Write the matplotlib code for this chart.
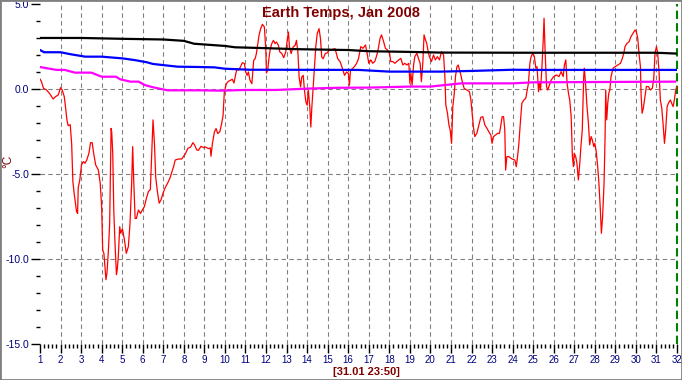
import matplotlib
matplotlib.use("Agg")
import matplotlib.pyplot as plt
from matplotlib.ticker import MultipleLocator, FixedLocator, FormatStrFormatter
from matplotlib.patches import Rectangle

plt.rcParams['font.family'] = ['Liberation Sans', 'DejaVu Sans']

# --- donnees ---
red_days = [1.0, 1.07, 1.17, 1.32, 1.48, 1.64, 1.76, 1.89, 2.0, 2.08, 2.18, 2.24, 2.31, 2.37,
            2.47, 2.54, 2.60, 2.67, 2.78, 2.83, 2.86, 2.94, 3.02, 3.11, 3.19, 3.28, 3.38, 3.46,
            3.54, 3.61, 3.71, 3.84, 3.93, 4.0, 4.05, 4.11, 4.16, 4.21, 4.26, 4.33, 4.39, 4.46,
            4.49, 4.54, 4.59, 4.65, 4.72, 4.76, 4.81, 4.88, 4.93, 5.01, 5.11, 5.20, 5.30, 5.38,
            5.46, 5.51, 5.56, 5.63, 5.69, 5.79, 5.89, 5.98, 6.08, 6.18, 6.28, 6.37, 6.44, 6.50,
            6.57, 6.63, 6.70, 6.80, 6.89, 6.99, 7.09, 7.22, 7.33, 7.41, 7.50, 7.58, 7.74, 7.90,
            8.07, 8.20, 8.33, 8.44, 8.52, 8.63, 8.71, 8.84, 8.95, 9.06, 9.19, 9.29, 9.32, 9.39,
            9.49, 9.57, 9.65, 9.75, 9.84, 9.91, 9.97, 10.07, 10.17, 10.27, 10.36, 10.44, 10.53,
            10.59, 10.66, 10.75, 10.85, 10.95, 11.01, 11.08, 11.14, 11.22, 11.31, 11.35, 11.40,
            11.47, 11.53, 11.60, 11.66, 11.74, 11.82, 11.92, 11.99, 12.02, 12.08, 12.15, 12.21,
            12.28, 12.36, 12.44, 12.51, 12.60, 12.67, 12.77, 12.86, 12.96, 13.03, 13.09, 13.14,
            13.22, 13.32, 13.42, 13.48, 13.55, 13.61, 13.68, 13.74, 13.81, 13.87, 13.94, 14.0,
            14.06, 14.13, 14.18, 14.23, 14.29, 14.36, 14.42, 14.49, 14.58, 14.65, 14.71, 14.78,
            14.88, 14.97, 15.07, 15.20, 15.36, 15.49, 15.61, 15.72, 15.82, 15.92, 16.01, 16.06,
            16.11, 16.21, 16.31, 16.40, 16.50, 16.61, 16.72, 16.84, 16.92, 17.0, 17.10, 17.19,
            17.29, 17.37, 17.45, 17.55, 17.62, 17.71, 17.81, 17.91, 18.01, 18.07, 18.17, 18.27,
            18.36, 18.46, 18.56, 18.66, 18.75, 18.85, 18.95, 19.0, 19.05, 19.11, 19.18, 19.24,
            19.34, 19.44, 19.50, 19.56, 19.63, 19.69, 19.76, 19.82, 19.89, 19.95, 20.05, 20.15,
            20.24, 20.34, 20.44, 20.54, 20.64, 20.70, 20.75, 20.83, 20.90, 20.96, 21.03, 21.09,
            21.16, 21.22, 21.29, 21.35, 21.42, 21.48, 21.55, 21.64, 21.77, 21.90, 21.97, 22.03,
            22.10, 22.16, 22.26, 22.36, 22.45, 22.55, 22.65, 22.75, 22.84, 22.94, 23.0, 23.07,
            23.17, 23.27, 23.36, 23.43, 23.49, 23.56, 23.62, 23.66, 23.72, 23.82, 23.92, 24.01,
            24.11, 24.18, 24.24, 24.30, 24.38, 24.45, 24.55, 24.64, 24.71, 24.77, 24.84, 24.90,
            24.98, 25.06, 25.13, 25.19, 25.26, 25.31, 25.36, 25.42, 25.49, 25.53, 25.58, 25.65,
            25.71, 25.79, 25.88, 26.0, 26.13, 26.26, 26.36, 26.46, 26.52, 26.59, 26.65, 26.72,
            26.78, 26.85, 26.91, 26.96, 27.0, 27.07, 27.13, 27.20, 27.27, 27.33, 27.39, 27.46,
            27.49, 27.56, 27.62, 27.69, 27.75, 27.82, 27.88, 27.95, 28.0, 28.07, 28.14, 28.20,
            28.27, 28.32, 28.38, 28.45, 28.50, 28.53, 28.58, 28.63, 28.68, 28.73, 28.79, 28.89,
            28.99, 29.12, 29.25, 29.34, 29.41, 29.47, 29.57, 29.67, 29.76, 29.86, 29.96, 30.02,
            30.09, 30.15, 30.22, 30.25, 30.30, 30.36, 30.45, 30.51, 30.61, 30.70, 30.80, 30.87,
            30.93, 31.0, 31.06, 31.13, 31.19, 31.26, 31.32, 31.39, 31.45, 31.52, 31.58, 31.68,
            31.74, 31.81, 31.87, 31.94, 31.99]
red_vals = [0.61, 0.45, 0.06, -0.04, -0.27, -0.57, -0.43, -0.33, 0.10, -0.04, -0.43, -1.02, -1.8,
            -2.14, -2.08, -3.18, -5.43, -6.2, -7.2, -7.3, -5.8, -5.3, -4.45, -4.25, -4.35, -4.15,
            -3.76, -3.14, -3.14, -3.76, -4.45, -4.75, -5.53, -6.9, -9.45, -9.65, -10.4, -11.2,
            -10.8, -9.45, -7.9, -2.3, -2.5, -3.76, -7.1, -9.06, -10.9, -10.6, -9.84, -8.08, -8.47,
            -8.2, -8.86, -9.65, -9.25, -7.9, -5.53, -3.37, -5.33, -7.6, -7.6, -7.1, -7.3, -7.1,
            -6.9, -6.4, -6.0, -5.9, -3.76, -1.8, -3.18, -5.14, -5.9, -6.7, -6.5, -6.1, -5.8, -5.5,
            -5.2, -4.9, -4.55, -4.16, -4.1, -4.1, -3.8, -3.47, -3.4, -3.14, -3.27, -3.57, -3.59,
            -3.35, -3.43, -3.4, -3.49, -3.45, -3.94, -3.2, -2.5, -2.31, -2.6, -2.5, -2.02, -1.53,
            -0.16, 0.33, 0.47, 0.53, 0.59, 0.37, 0.92, 1.22, 1.12, 1.31, 1.57, 1.51, 1.02, 0.82,
            1.02, 0.53, 0.33, 0.92, 1.71, 1.8, 2.1, 2.69, 3.18, 3.57, 3.82, 3.67, 2.29, 0.96, 1.12,
            1.9, 2.39, 2.69, 2.88, 2.69, 2.78, 2.59, 2.2, 2.1, 1.86, 2.2, 2.88, 3.37, 2.49, 2.1,
            2.49, 2.59, 2.88, 2.2, 0.73, 0.14, 0.73, 0.82, -0.06, -0.75, -0.94, -0.06, -1.04,
            -2.22, -1.04, 0.04, 1.41, 2.49, 3.27, 3.57, 2.98, 1.9, 1.8, 2.1, 2.14, 2.29, 2.33,
            2.39, 1.8, 1.61, 1.22, 0.82, 1.02, 0.92, 0.24, 1.12, 1.22, 1.35, 1.51, 1.8, 2.51, 2.41,
            2.61, 2.12, 1.53, 1.73, 1.53, 1.63, 1.92, 2.31, 3.0, 3.2, 2.86, 2.41, 2.31, 2.12, 1.63,
            1.63, 1.53, 1.63, 1.73, 1.82, 1.43, 1.53, 1.43, 1.53, 0.35, 0.94, 0.25, 1.43, 1.92,
            2.12, 1.73, 1.53, 0.45, 1.53, 3.2, 2.9, 2.7, 2.22, 1.92, 1.63, 2.02, 1.73, 1.92, 1.73,
            2.22, 2.02, 0.84, -0.92, -1.41, -2.1, -2.39, -3.18, -1.02, -0.24, 0.75, 1.33, 1.43,
            1.14, 0.84, 0.45, 0.06, -0.04, -0.14, -0.63, -1.41, -2.29, -2.78, -2.59, -2.1, -1.65,
            -1.61, -2.1, -2.29, -2.49, -2.69, -3.18, -2.78, -2.69, -2.59, -2.59, -2.1, -1.61,
            -1.61, -2.39, -4.75, -3.96, -3.96, -4.06, -4.12, -4.16, -4.55, -3.96, -3.27, -1.9,
            -0.82, -0.63, -0.53, -0.04, 0.35, 1.53, 1.92, 2.12, 1.92, 1.24, 1.33, -0.14, 0.45,
            -0.04, 1.14, 2.9, 4.18, 2.31, 0.16, -0.04, 0.25, 0.55, 0.75, 0.84, 0.75, 1.04, 0.75,
            1.43, 1.73, 0.35, -0.24, -0.63, -1.61, -3.96, -4.55, -3.76, -3.96, -4.35, -5.33,
            -4.35, -3.27, -2.39, 0.75, 1.24, 0.16, -1.02, -2.0, -3.27, -2.78, -2.98, -3.37, -3.18,
            -3.67, -4.55, -5.53, -7.1, -8.47, -7.49, -5.53, -2.78, -0.04, -1.8, -0.82, -0.24,
            -0.04, 0.75, 1.24, 1.33, 1.43, 1.53, 1.82, 2.12, 2.51, 2.71, 2.8, 3.1, 3.29, 3.49,
            3.39, 3.0, 2.12, 1.33, -0.24, -1.41, -1.12, -0.33, 0.16, 0.16, -0.04, 0.06, 0.65,
            2.12, 2.51, 2.12, 0.94, -0.63, -1.12, -2.0, -3.18, -2.39, -1.02, -0.82, -0.63, -0.82,
            -1.02, -0.63, -0.04, 0.16]

black_days = [1, 3, 5, 7, 8, 8.5, 10, 10.5, 12, 13.5, 16, 17, 18, 19, 20.5, 25, 31, 32]
black_vals = [3.02, 3.02, 2.97, 2.93, 2.85, 2.68, 2.55, 2.47, 2.42, 2.36, 2.31, 2.24, 2.22,
              2.20, 2.16, 2.15, 2.15, 2.10]

blue_days = [1, 1.2, 2.0, 2.5, 3.2, 4.0, 5.0, 5.6, 6.2, 6.5, 7.7, 8.8, 9.5, 10.0, 11.2, 16.5,
             18.0, 20.5, 22.0, 24.0, 25.0, 32]
blue_vals = [2.31, 2.18, 2.18, 2.06, 1.92, 1.92, 1.82, 1.72, 1.59, 1.49, 1.33, 1.31, 1.29, 1.21,
             1.15, 1.14, 1.04, 1.04, 1.08, 1.15, 1.14, 1.14]

magenta_days = [1, 1.8, 2.2, 2.7, 3.5, 4.0, 4.7, 4.9, 5.4, 5.8, 6.1, 6.5, 7.2, 8.8, 9.8, 11.0,
                12.5, 14.0, 15.5, 17.0, 19.0, 20.0, 20.7, 21.5, 24.0, 25.0, 31.9]
magenta_vals = [1.31, 1.14, 1.14, 0.98, 0.98, 0.74, 0.74, 0.59, 0.45, 0.45, 0.25, 0.12, -0.06,
                -0.06, -0.08, -0.04, -0.04, 0.04, 0.09, 0.10, 0.16, 0.16, 0.25, 0.35, 0.35, 0.41,
                0.45]

grid_days = list(range(2, 32))
grid_temps = [0, -5, -10]
day_ticks = list(range(1, 33))
temp_ticks = [5, 0, -5, -10, -15]

navy = "#000080"
dark_red = "#800000"

fig = plt.figure(figsize=(6.82, 3.80), dpi=100)
ax = fig.add_axes([40 / 682, 1 - 344.3 / 380, 637 / 682, 340 / 380])

for d in grid_days:
    ax.axvline(d, color="#808080", lw=0.8, ls=(0, (4, 3)), zorder=1)
for t in grid_temps:
    ax.axhline(t, color="#808080", lw=0.8, ls=(0, (4, 3)), zorder=1)
ax.axvline(32, color="#008000", lw=1.5, ls=(0, (4, 2)), zorder=1, clip_on=False)

ax.plot(red_days, red_vals, color="#ff0000", lw=0.9, zorder=2)
ax.plot(black_days, black_vals, color="#000000", lw=1.6, zorder=3)
ax.plot(blue_days, blue_vals, color="#0000ff", lw=1.6, zorder=3)
ax.plot(magenta_days, magenta_vals, color="#ff00ff", lw=1.6, zorder=3)

ax.set_xlim(1, 32)
ax.set_ylim(-15, 5)
for s in ax.spines.values():
    s.set_visible(False)
ax.patch.set_alpha(0)

ax.xaxis.set_major_locator(FixedLocator(day_ticks))
ax.xaxis.set_minor_locator(MultipleLocator(0.2))
ax.yaxis.set_major_locator(FixedLocator(temp_ticks))
ax.yaxis.set_minor_locator(MultipleLocator(1))
ax.yaxis.set_major_formatter(FormatStrFormatter("%.1f"))
ax.tick_params(which="major", length=6.5, width=1, color="black", labelcolor=navy,
               labelsize=7.5, pad=1.2)
ax.tick_params(axis="x", which="major", labelsize=7, pad=1)
ax.tick_params(which="minor", length=3, width=1, color="black")

fig.text(0.5, 1 - 13 / 380, "Earth Temps, Jan 2008", ha="center", va="center",
         color=dark_red, fontsize=10.5, fontweight="bold")
fig.text(366 / 682, 1 - 372 / 380, "[31.01 23:50]", ha="center", va="center",
         color=dark_red, fontsize=8, fontweight="bold")
fig.text(8 / 682, 1 - 161 / 380, "°C", ha="center", va="center", rotation=90,
         color=dark_red, fontsize=8.5)

fig.patches.append(Rectangle((0, 0), 1, 1, transform=fig.transFigure, fill=False,
                             edgecolor="#808080", lw=2))

fig.savefig("out.png", dpi=100)
